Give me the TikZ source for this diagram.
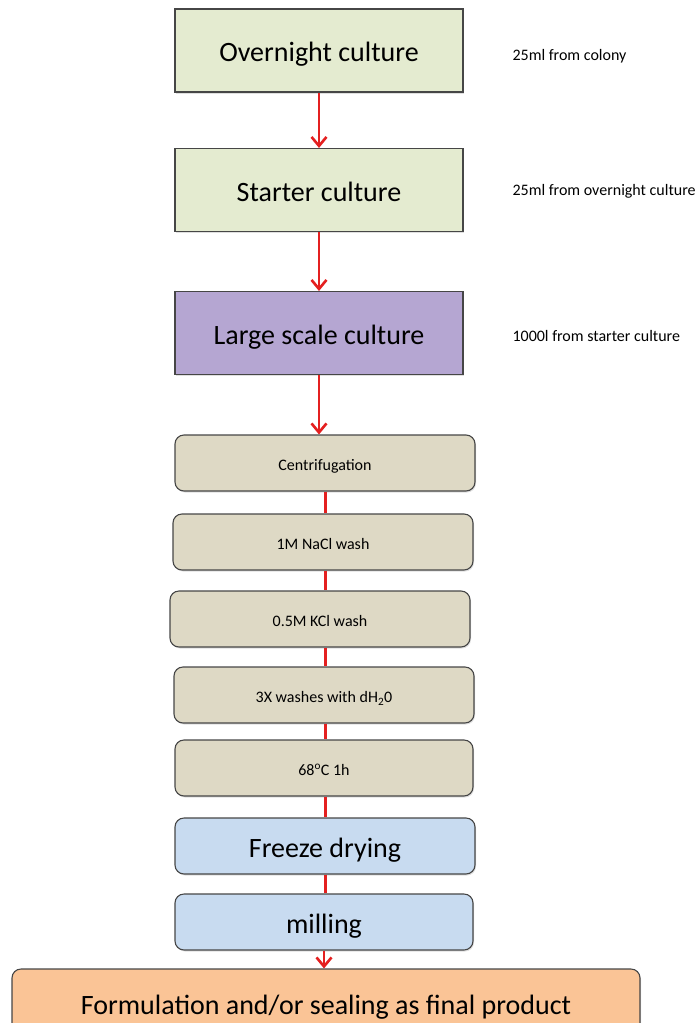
\documentclass[tikz,border=0pt]{standalone}
\usepackage{fontspec}
\setmainfont{Carlito}
\usetikzlibrary{arrows.meta,shadows}
\definecolor{boxline}{RGB}{70,70,70}
\definecolor{boxgreen}{RGB}{228,235,208}
\definecolor{boxpurple}{RGB}{181,166,210}
\definecolor{boxtan}{RGB}{222,217,197}
\definecolor{boxblue}{RGB}{200,219,240}
\definecolor{boxorange}{RGB}{250,196,150}
\definecolor{flowred}{RGB}{228,32,32}

\begin{document}
\begin{tikzpicture}[x=1pt,y=-1pt,
	stage/.style={draw=boxline,line width=1.1pt,minimum width=288pt,minimum height=83pt,inner sep=0pt,text height=22pt,text depth=0pt,font=\fontsize{28}{30}\selectfont,drop shadow={opacity=0.25,shadow xshift=1pt,shadow yshift=-1.5pt}},
	substage/.style={stage,rounded corners=9pt,minimum width=300pt,minimum height=56pt,text height=15pt,font=\fontsize{16}{18}\selectfont},
	bigsubstage/.style={substage,text height=22pt,font=\fontsize{28}{30}\selectfont},
	note/.style={anchor=west,font=\fontsize{16}{18}\selectfont},
	flow/.style={draw=flowred,line width=2.6pt,-{Straight Barb[length=9pt,width=15pt]}},
	link/.style={draw=flowred,line width=3pt}]
	\useasboundingbox (0,0) rectangle (694,1023);
	\node[stage,fill=boxgreen] (over) at (319,50.5) {Overnight culture};
	\node[stage,fill=boxgreen] (start) at (319,190) {Starter culture};
	\node[stage,fill=boxpurple] (large) at (319,333) {Large scale culture};
	\node[substage,fill=boxtan] (cent) at (325,463) {Centrifugation};
	\node[substage,fill=boxtan] (nacl) at (323,542) {1M NaCl wash};
	\node[substage,fill=boxtan] (kcl) at (320,619) {0.5M KCl wash};
	\node[substage,fill=boxtan] (wash) at (324,695) {3X washes with dH\textsubscript{2}0};
	\node[substage,fill=boxtan,minimum width=298pt] (heat) at (324,768) {68\textsuperscript{o}C 1h};
	\node[bigsubstage,fill=boxblue] (freeze) at (325,846) {Freeze drying};
	\node[bigsubstage,fill=boxblue,minimum width=298pt] (mill) at (324,922) {milling};
	\node[bigsubstage,fill=boxorange,minimum width=628pt,minimum height=68pt] (final) at (326,1003) {Formulation and/or sealing as final product};
	\node[note] (overnote) at (509,56) {25ml from colony};
	\node[note] (startnote) at (509,191) {25ml from overnight culture};
	\node[note] (largenote) at (509,336) {1000l from starter culture};
	\draw[flow] (over) -- (start);
	\draw[flow] (start) -- (large);
	\draw[flow] (large.south) -- (large.south |- cent.north);
	\draw[link] (cent.south) -- (cent.south |- nacl.north);
	\draw[link] (cent.south |- nacl.south) -- (cent.south |- kcl.north);
	\draw[link] (cent.south |- kcl.south) -- (cent.south |- wash.north);
	\draw[link] (cent.south |- wash.south) -- (cent.south |- heat.north);
	\draw[link] (cent.south |- heat.south) -- (cent.south |- freeze.north);
	\draw[link] (freeze.south) -- (freeze.south |- mill.north);
	\draw[flow] (mill.south) -- (mill.south |- final.north);
\end{tikzpicture}
\end{document}
